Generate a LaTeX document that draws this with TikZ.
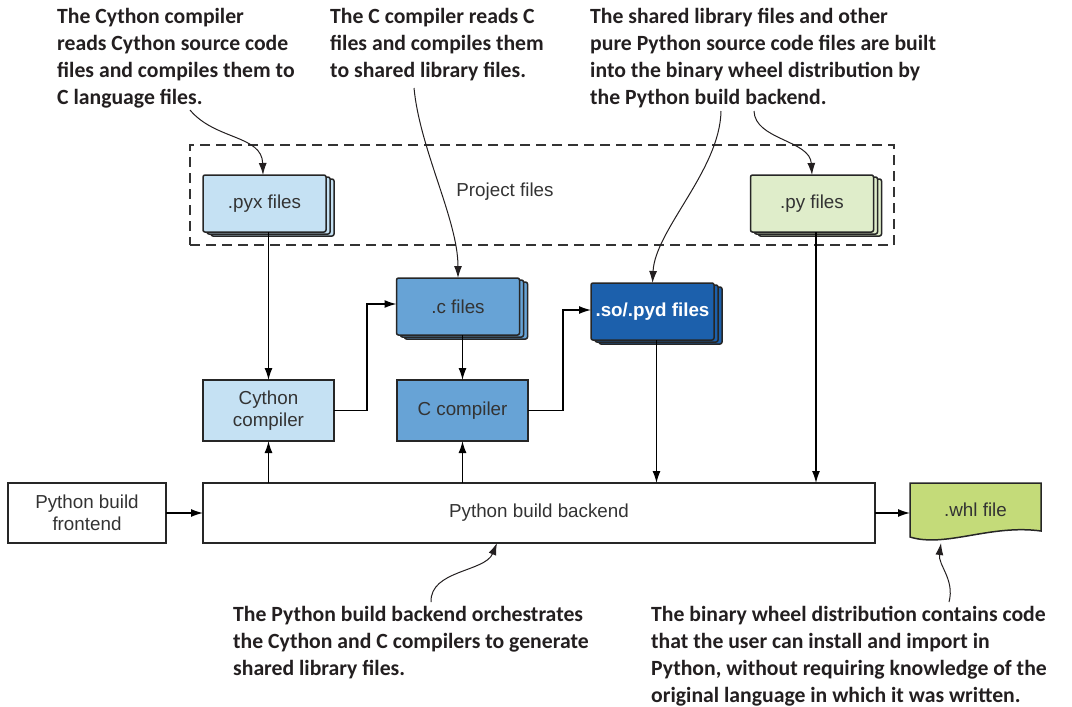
\documentclass[tikz,border=0pt]{standalone}
\usepackage{fontspec}
\setmainfont{Liberation Sans}
\newfontfamily\notefont{Carlito}
\usetikzlibrary{positioning,arrows.meta,shadows,calc,backgrounds}
\definecolor{pyxblue}{HTML}{C5E1F3}
\definecolor{cblue}{HTML}{67A3D6}
\definecolor{soblue}{HTML}{1C60AC}
\definecolor{pygreen}{HTML}{DFEDCA}
\definecolor{whlgreen}{HTML}{C4DB79}
\definecolor{boxtext}{HTML}{333333}
\definecolor{notetext}{HTML}{231F20}
\tikzstyle{signal}=[arrows={-Latex[length=12pt,width=8pt]},draw=black,line width=1.3pt]
\tikzstyle{callout}=[arrows={-Latex[length=12pt,width=8pt]},draw=notetext,line width=1pt]
\tikzstyle{block}=[draw=black!85,line width=1.5pt]
\def\fileswidth{123pt}
\def\filesheight{57pt}
\tikzstyle{tool}=[style=block, inner sep=4pt, outer sep=0pt,
    font=\fontsize{18.8}{22.5}\selectfont, text=boxtext,
    text centered, align=center,
    minimum width=131pt, minimum height=61pt]
\tikzstyle{files}=[style=tool, rounded corners=2pt,
    minimum width=\fileswidth, minimum height=\filesheight,
    double copy shadow={shadow xshift=4pt,shadow yshift=-2pt}]
\tikzstyle{note}=[font=\notefont\bfseries\fontsize{21.7}{27}\selectfont,
    text=notetext, align=left, anchor=north west, inner sep=0pt]

\begin{document}
\begin{tikzpicture}[x=1pt,y=-1pt]
    \useasboundingbox (0,0) rectangle (1072,707);
    % project files
    \node[draw=black!80, line width=1.3pt, dash pattern=on 10pt off 6pt,
        minimum width=704pt, minimum height=100pt] (project) at (542,195) {};
    \node[font=\fontsize{18.8}{22.5}\selectfont, text=boxtext] (projectlabel) at (505,192) {Project files};
    \node[files, fill=pyxblue] (pyx) at (264.5,203.5) {.pyx files};
    \node[files, fill=pygreen] (py) at (812,203.5) {.py files};
    % compilers and their output
    \node[files, fill=cblue] (cfiles) at (458,306.5) {.c files};
    \node[files, fill=soblue, text=white,
        font=\bfseries\fontsize{18.8}{22.5}\selectfont] (sofiles) at (652.5,311.5) {.so/.pyd files};
    \node[tool, fill=pyxblue] (cython) at (268.5,410.5) {Cython\\compiler};
    \node[tool, fill=cblue] (ccomp) at (462.5,410.5) {C compiler};
    % build
    \node[tool, minimum width=158pt, minimum height=60pt] (frontend) at (87,513) {Python build\\frontend};
    \node[tool, minimum width=672pt, minimum height=60pt] (backend) at (539,513) {Python build backend};
    \node[tool, draw=none, minimum width=131pt, minimum height=54pt] (whl) at (975.5,510) {.whl file};
    \begin{pgfonlayer}{background}
        \draw[block, fill=whlgreen] (whl.north west) -- (whl.north east)
            -- ($(whl.south east)+(0,-6)$)
            .. controls ($(whl.south)+(15,-13)$) and ($(whl.south)+(-30,11)$) .. (whl.south west)
            -- cycle;
    \end{pgfonlayer}
    % connectors
    \draw[signal] (pyx.south -| cython.north) -- (cython.north);
    \draw[signal] (cython.east) -- ++(33,0) |- ([yshift=2.5pt]cfiles.west);
    \draw[signal] (cfiles.south -| ccomp.north) -- (ccomp.north);
    \draw[signal] (ccomp.east) -- ++(35,0) |- ([yshift=1.5pt]sofiles.west);
    \draw[signal] ([xshift=4pt]sofiles.south) -- ([xshift=4pt]sofiles.south |- backend.north);
    \draw[signal] ([xshift=4pt]py.south) -- ([xshift=4pt]py.south |- backend.north);
    \draw[signal] (cython.south |- backend.north) -- (cython.south);
    \draw[signal] (ccomp.south |- backend.north) -- (ccomp.south);
    \draw[signal] (frontend.east) -- (backend.west);
    \draw[signal] (backend.east) -- (backend.east -| whl.west);
    % notes
    \node[note] (noteCython) at (57,8) {The Cython compiler\\reads Cython source code\\files and compiles them to\\C language files.};
    \node[note] (noteC) at (330,8) {The C compiler reads C\\files and compiles them\\to shared library files.};
    \node[note] (noteShared) at (590,8) {The shared library files and other\\pure Python source code files are built\\into the binary wheel distribution by\\the Python build backend.};
    \node[note] (noteBackend) at (233,606) {The Python build backend orchestrates\\the Cython and C compilers to generate\\shared library files.};
    \node[note] (noteWheel) at (651,606) {The binary wheel distribution contains code\\that the user can install and import in\\Python, without requiring knowledge of the\\original language in which it was written.};
    \coordinate (fromCython) at (190,110);
    \coordinate (fromC) at (414,88);
    \coordinate (fromShared) at (721,111);
    \coordinate (fromPure) at (754,111);
    \coordinate (fromBackend) at (431,602);
    \coordinate (fromWheel) at (949,602);
    \draw[callout] (fromCython) .. controls (215,140) and (262,135) .. ([xshift=-1.5pt]pyx.north);
    \draw[callout] (fromC) .. controls (420,150) and (458,220) .. (cfiles.north);
    \draw[callout] (fromShared) .. controls (720,170) and (655,230) .. (sofiles.north);
    \draw[callout] (fromPure) .. controls (755,140) and (810,140) .. (py.north);
    \draw[callout] (fromBackend) .. controls (430,570) and (485,572) .. ([xshift=-42pt]backend.south);
    \draw[callout] (fromWheel) .. controls (955,580) and (938,565) .. (941,543);
\end{tikzpicture}
\end{document}
